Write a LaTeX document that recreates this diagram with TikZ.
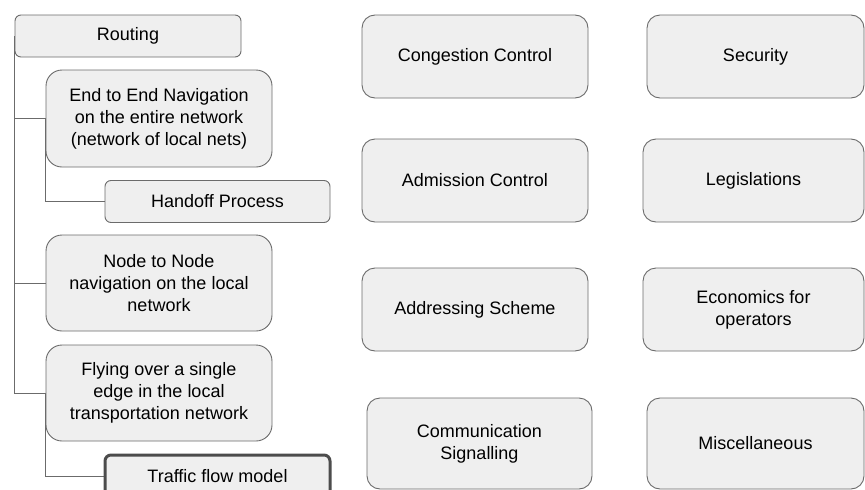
\documentclass[tikz,border=0pt]{standalone}
\usepackage{fontspec}
\setmainfont{Liberation Sans}
\usepackage{tikz}
\usetikzlibrary{positioning,backgrounds}
\definecolor{boxfill}{HTML}{EFEFEF}
\definecolor{boxline}{HTML}{6B6B6B}
\tikzset{
  topic/.style={draw=boxline,fill=boxfill,line width=0.9pt,rounded corners=13pt,
    align=center,inner sep=0pt,font=\fontsize{18}{22}\selectfont,
    minimum width=226pt,minimum height=83pt},
  flat/.style={topic,rounded corners=6pt,minimum height=42pt},
  hot/.style={flat,line width=3pt,draw=black!70},
  link/.style={draw=boxline,line width=0.9pt}
}
\begin{document}
\begin{tikzpicture}[x=1pt,y=-1pt]
                \useasboundingbox (0,0) rectangle (865,490);
                % routing tree
                \node[flat] (routing) at (128,36) {Routing};
                \node[topic,minimum height=97pt,rounded corners=16pt] (e2e) at (159,118.5) {End to End Navigation\\on the entire network\\(network of local nets)};
                \node[flat,minimum width=225pt] (handoff) at (217.5,201.5) {Handoff Process};
                \node[topic,minimum height=96pt,rounded corners=16pt] (n2n) at (159,283) {Node to Node\\navigation on the local\\network};
                \node[topic,minimum height=96pt,rounded corners=16pt] (flying) at (159,393) {Flying over a single\\edge in the local\\transportation network};
                \node[hot,minimum width=225pt] (traffic) at (217.5,476) {Traffic flow model};
                \begin{scope}[on background layer]
                \path[link] (routing.west) |- (e2e.west)
                            (routing.west) |- (n2n.west)
                            (routing.west) |- (flying.west)
                            (e2e.west) |- (handoff.west)
                            (flying.west) |- (traffic.west);
                \end{scope}
                % other topics
                \node[topic] (congestion) at (475,56.5) {Congestion Control};
                \node[topic] (admission) at (475,180.5) {Admission Control};
                \node[topic] (addressing) at (475,309.5) {Addressing Scheme};
                \node[topic,minimum width=225pt,minimum height=91pt] (signalling) at (479.5,443.5) {Communication\\Signalling};
                \node[topic,minimum width=217pt] (security) at (755.5,56.5) {Security};
                \node[topic,minimum width=221pt] (legislation) at (753.5,180.5) {Legislations};
                \node[topic,minimum width=221pt] (economics) at (753.5,309.5) {Economics for\\operators};
                \node[topic,minimum width=217pt,minimum height=91pt] (misc) at (755.5,443.5) {Miscellaneous};
            \end{tikzpicture}
\end{document}
